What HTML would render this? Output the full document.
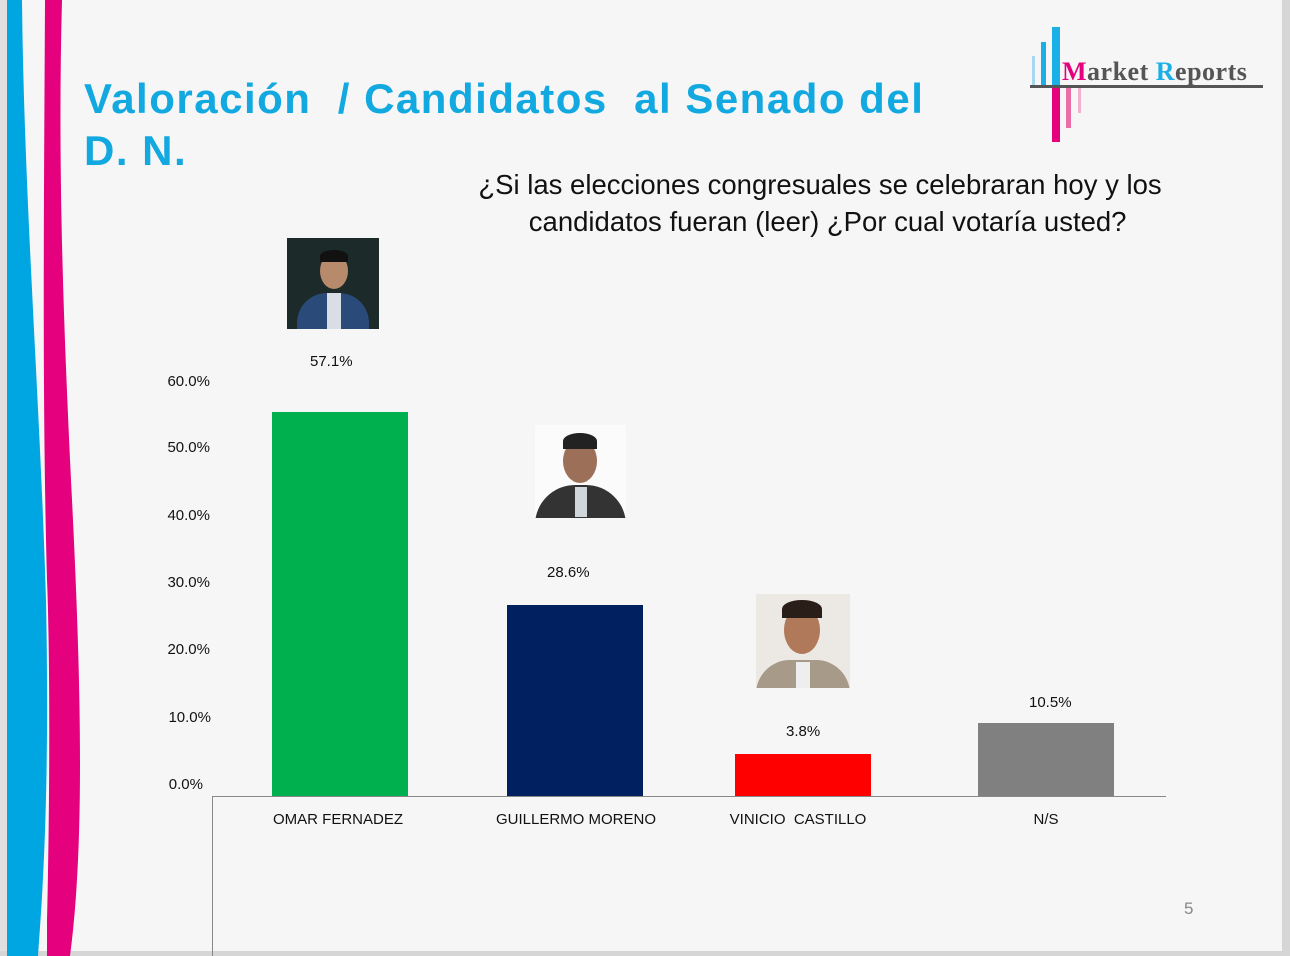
<!DOCTYPE html>
<html><head><meta charset="utf-8"><style>
body{margin:0;width:1290px;height:956px;background:#f7f6f7;position:relative;overflow:hidden;font-family:"Liberation Sans",sans-serif}
.a{position:absolute}
.t{color:#12a8e0;font-weight:bold;font-size:42px;letter-spacing:1.5px;line-height:52px}
.lab{font-size:15px;color:#111}
.yl{font-size:15px;color:#111;width:60px;text-align:right}
</style></head><body>
<div class="a" style="left:0;top:0;width:7px;height:956px;background:#e0e0e0"></div>
<div class="a" style="left:1282px;top:0;width:8px;height:956px;background:#d6d6d6"></div>
<div class="a" style="left:0;top:951px;width:1290px;height:5px;background:#d6d6d6"></div>
<svg class="a" style="left:0;top:0" width="100" height="956">
<path d="M7,0 L22,0 C24,200 40,400 46,600 C50,800 42,900 38,956 L7,956 Z" fill="#00a6e2"/>
<path d="M45,0 L62,0 C58,150 62,300 72,500 C82,700 84,850 70,956 L47,956 L47,920 C50,800 50,650 47,580 C42,400 44,200 45,0 Z" fill="#e5007e"/>
</svg>
<div class="a t" style="left:84px;top:73px">Valoración&nbsp; / Candidatos&nbsp; al Senado del<br>D. N.</div>
<div class="a" style="left:430px;top:166px;width:780px;text-align:center;font-size:27.5px;line-height:37px;color:#111">¿Si las elecciones congresuales se celebraran hoy y los<br>&nbsp;&nbsp;candidatos fueran (leer) ¿Por cual votaría usted?</div>
<!-- logo -->
<div class="a" style="left:1032px;top:56px;width:3px;height:30px;background:#a8d8f0"></div>
<div class="a" style="left:1041px;top:42px;width:5px;height:44px;background:#1ab0e6"></div>
<div class="a" style="left:1052px;top:27px;width:8px;height:60px;background:#1ab0e6"></div>
<div class="a" style="left:1052px;top:88px;width:8px;height:54px;background:#e5007e"></div>
<div class="a" style="left:1066px;top:88px;width:5px;height:40px;background:#ec6ea8"></div>
<div class="a" style="left:1078px;top:88px;width:3px;height:25px;background:#f4b0cf"></div>
<div class="a" style="left:1030px;top:85px;width:233px;height:3px;background:#555"></div>
<div class="a" style="left:1062px;top:57px;font-family:'Liberation Serif',serif;font-weight:bold;font-size:26px;color:#555;letter-spacing:0.5px"><span style="color:#e5007e">M</span>arket <span style="color:#1ab0e6">R</span>eports</div>
<!-- axes -->
<div class="a" style="left:212px;top:796px;width:954px;height:1px;background:#888"></div>
<div class="a" style="left:212px;top:796px;width:1px;height:160px;background:#888"></div>
<div class="a yl" style="left:150px;top:373px">60.0%</div>
<div class="a yl" style="left:150px;top:439px">50.0%</div>
<div class="a yl" style="left:150px;top:507px">40.0%</div>
<div class="a yl" style="left:150px;top:574px">30.0%</div>
<div class="a yl" style="left:150px;top:641px">20.0%</div>
<div class="a yl" style="left:151px;top:709px">10.0%</div>
<div class="a yl" style="left:143px;top:776px">0.0%</div>
<!-- bars -->
<div class="a" style="left:272px;top:412px;width:136px;height:384px;background:#00b04f"></div>
<div class="a" style="left:507px;top:605px;width:136px;height:191px;background:#002060"></div>
<div class="a" style="left:735px;top:754px;width:136px;height:42px;background:#ff0000"></div>
<div class="a" style="left:978px;top:723px;width:136px;height:73px;background:#808080"></div>
<div class="a lab" style="left:310px;top:353px">57.1%</div>
<div class="a lab" style="left:547px;top:564px">28.6%</div>
<div class="a lab" style="left:786px;top:723px">3.8%</div>
<div class="a lab" style="left:1029px;top:694px">10.5%</div>
<div class="a lab" style="left:238px;top:811px;width:200px;text-align:center">OMAR FERNADEZ</div>
<div class="a lab" style="left:476px;top:811px;width:200px;text-align:center">GUILLERMO MORENO</div>
<div class="a lab" style="left:698px;top:811px;width:200px;text-align:center">VINICIO&nbsp; CASTILLO</div>
<div class="a lab" style="left:946px;top:811px;width:200px;text-align:center">N/S</div>
<!-- photos -->
<div class="a" style="left:287px;top:238px;width:92px;height:91px;background:#1c2a2a;overflow:hidden">
<div class="a" style="left:33px;top:15px;width:28px;height:36px;border-radius:50%;background:#b88a6c"></div>
<div class="a" style="left:33px;top:12px;width:28px;height:12px;border-radius:50% 50% 0 0;background:#111"></div>
<div class="a" style="left:10px;top:55px;width:72px;height:40px;border-radius:30px 30px 0 0;background:#2a4a7a"></div>
<div class="a" style="left:40px;top:55px;width:14px;height:36px;background:#d8dde6"></div></div>
<div class="a" style="left:535px;top:425px;width:91px;height:93px;background:#fbfbfb;overflow:hidden">
<div class="a" style="left:28px;top:14px;width:34px;height:44px;border-radius:50%;background:#9c7058"></div>
<div class="a" style="left:28px;top:8px;width:34px;height:16px;border-radius:50% 50% 0 0;background:#222"></div>
<div class="a" style="left:0;top:60px;width:91px;height:40px;border-radius:40px 40px 0 0;background:#333"></div>
<div class="a" style="left:40px;top:62px;width:12px;height:30px;background:#cfd6dc"></div></div>
<div class="a" style="left:756px;top:594px;width:94px;height:94px;background:#ece8e4;overflow:hidden">
<div class="a" style="left:28px;top:12px;width:36px;height:48px;border-radius:50%;background:#b07a5a"></div>
<div class="a" style="left:26px;top:6px;width:40px;height:18px;border-radius:50% 50% 0 0;background:#2a1e18"></div>
<div class="a" style="left:0;top:66px;width:94px;height:34px;border-radius:40px 40px 0 0;background:#a89a88"></div>
<div class="a" style="left:40px;top:68px;width:14px;height:26px;background:#eee"></div></div>
<div class="a" style="left:1184px;top:899px;font-size:17px;color:#888">5</div>
</body></html>
